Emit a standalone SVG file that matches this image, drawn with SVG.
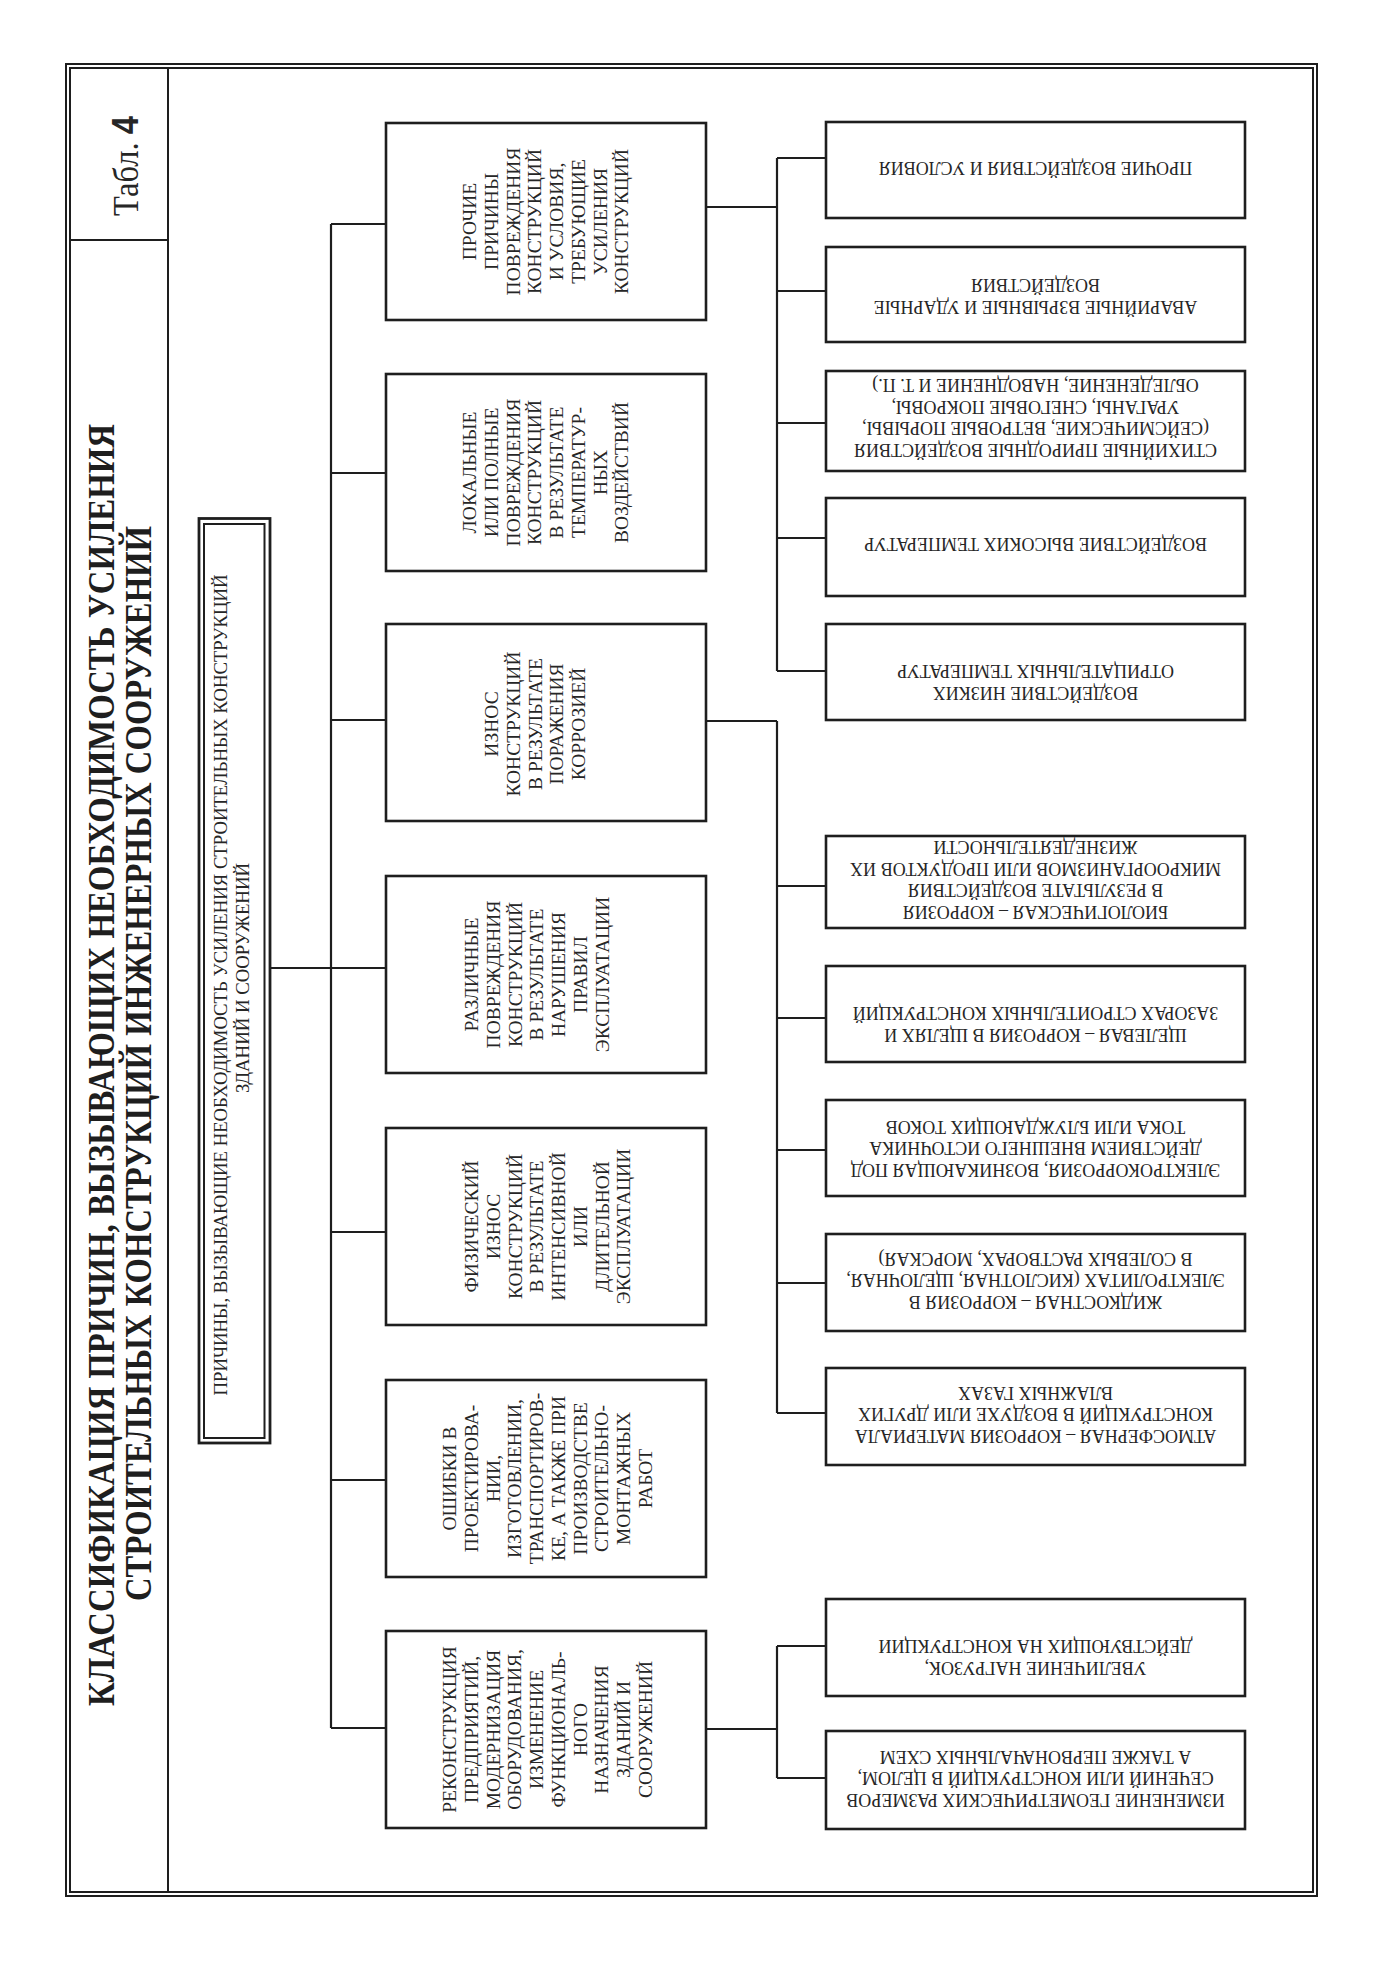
<svg xmlns="http://www.w3.org/2000/svg" width="1386" height="1961" viewBox="0 0 1386 1961">
<style>
.fr{fill:none;stroke:#1e1e1e;stroke-width:2}
.box{fill:#fff;stroke:#1e1e1e;stroke-width:2.6}
.ln{fill:none;stroke:#1e1e1e;stroke-width:2.2}
.t{font-family:"Liberation Serif","DejaVu Serif",serif;font-size:19.5px;fill:#262626;text-anchor:middle}
.r{font-family:"Liberation Serif","DejaVu Serif",serif;font-size:18px;fill:#262626;text-anchor:middle}
.ttl{font-family:"Liberation Serif","DejaVu Serif",serif;font-size:38px;font-weight:bold;fill:#1e1e1e;text-anchor:middle}
</style>
<rect width="1386" height="1961" fill="#fff"/>
<g id="frame">
<rect class="fr" x="66" y="64" width="1251" height="1832"/>
<rect class="fr" x="70" y="68" width="1243" height="1824"/>
<line class="fr" x1="168" y1="68" x2="168" y2="1892"/>
<line class="fr" x1="70" y1="240" x2="168" y2="240"/>
</g>
<g id="tabl">
<text transform="translate(138,166) rotate(-90)" font-family="Liberation Serif, serif" font-size="36" fill="#262626" text-anchor="middle" textLength="100" lengthAdjust="spacingAndGlyphs">Табл. <tspan font-family="Liberation Sans, sans-serif" font-weight="bold">4</tspan></text>
</g>
<g id="title">
<text class="ttl" transform="translate(113.5,1065) rotate(-90)" textLength="1282" lengthAdjust="spacingAndGlyphs">КЛАССИФИКАЦИЯ ПРИЧИН, ВЫЗЫВАЮЩИХ НЕОБХОДИМОСТЬ УСИЛЕНИЯ</text>
<text class="ttl" transform="translate(151,1063.5) rotate(-90)" textLength="1075" lengthAdjust="spacingAndGlyphs">СТРОИТЕЛЬНЫХ КОНСТРУКЦИЙ ИНЖЕНЕРНЫХ СООРУЖЕНИЙ</text>
</g>
<g id="connectors">
<line class="ln" x1="270" y1="968" x2="331" y2="968"/>
<line class="ln" x1="331" y1="224" x2="331" y2="1728"/>
<line class="ln" x1="331" y1="224" x2="386" y2="224"/>
<line class="ln" x1="331" y1="473" x2="386" y2="473"/>
<line class="ln" x1="331" y1="720" x2="386" y2="720"/>
<line class="ln" x1="331" y1="968" x2="386" y2="968"/>
<line class="ln" x1="331" y1="1232" x2="386" y2="1232"/>
<line class="ln" x1="331" y1="1480" x2="386" y2="1480"/>
<line class="ln" x1="331" y1="1728" x2="386" y2="1728"/>
<line class="ln" x1="706" y1="207" x2="777" y2="207"/>
<line class="ln" x1="777" y1="158" x2="777" y2="671"/>
<line class="ln" x1="777" y1="158" x2="826" y2="158"/>
<line class="ln" x1="777" y1="291" x2="826" y2="291"/>
<line class="ln" x1="777" y1="423" x2="826" y2="423"/>
<line class="ln" x1="777" y1="538" x2="826" y2="538"/>
<line class="ln" x1="777" y1="671" x2="826" y2="671"/>
<line class="ln" x1="706" y1="721" x2="777" y2="721"/>
<line class="ln" x1="777" y1="721" x2="777" y2="1413"/>
<line class="ln" x1="777" y1="886" x2="826" y2="886"/>
<line class="ln" x1="777" y1="1018" x2="826" y2="1018"/>
<line class="ln" x1="777" y1="1150" x2="826" y2="1150"/>
<line class="ln" x1="777" y1="1283" x2="826" y2="1283"/>
<line class="ln" x1="777" y1="1413" x2="826" y2="1413"/>
<line class="ln" x1="706" y1="1729" x2="777" y2="1729"/>
<line class="ln" x1="777" y1="1646" x2="777" y2="1778"/>
<line class="ln" x1="777" y1="1646" x2="826" y2="1646"/>
<line class="ln" x1="777" y1="1778" x2="826" y2="1778"/>
</g>
<g id="root">
<rect x="199" y="518.5" width="71" height="924.5" fill="#fff" stroke="#1e1e1e" stroke-width="2.8"/>
<rect x="204" y="524" width="60.5" height="914" fill="none" stroke="#1e1e1e" stroke-width="2"/>
<text class="t" font-size="18.5" transform="translate(227,985) rotate(-90)" textLength="821" lengthAdjust="spacingAndGlyphs">ПРИЧИНЫ, ВЫЗЫВАЮЩИЕ НЕОБХОДИМОСТЬ УСИЛЕНИЯ СТРОИТЕЛЬНЫХ КОНСТРУКЦИЙ</text>
<text class="t" font-size="18.5" transform="translate(249,978) rotate(-90)" textLength="230" lengthAdjust="spacingAndGlyphs">ЗДАНИЙ И СООРУЖЕНИЙ</text>
</g>
<g id="m1">
<rect class="box" x="386" y="123" width="320" height="197"/>
<text class="t" transform="translate(476.4,221.5) rotate(-90)"><tspan x="0">ПРОЧИЕ</tspan><tspan x="0" dy="21.7">ПРИЧИНЫ</tspan><tspan x="0" dy="21.7">ПОВРЕЖДЕНИЯ</tspan><tspan x="0" dy="21.7">КОНСТРУКЦИЙ</tspan><tspan x="0" dy="21.7">И УСЛОВИЯ,</tspan><tspan x="0" dy="21.7">ТРЕБУЮЩИЕ</tspan><tspan x="0" dy="21.7">УСИЛЕНИЯ</tspan><tspan x="0" dy="21.7">КОНСТРУКЦИЙ</tspan></text>
</g>
<g id="m2">
<rect class="box" x="386" y="374" width="320" height="197"/>
<text class="t" transform="translate(476.4,472.5) rotate(-90)"><tspan x="0">ЛОКАЛЬНЫЕ</tspan><tspan x="0" dy="21.7">ИЛИ ПОЛНЫЕ</tspan><tspan x="0" dy="21.7">ПОВРЕЖДЕНИЯ</tspan><tspan x="0" dy="21.7">КОНСТРУКЦИЙ</tspan><tspan x="0" dy="21.7">В РЕЗУЛЬТАТЕ</tspan><tspan x="0" dy="21.7">ТЕМПЕРАТУР-</tspan><tspan x="0" dy="21.7">НЫХ</tspan><tspan x="0" dy="21.7">ВОЗДЕЙСТВИЙ</tspan></text>
</g>
<g id="m3">
<rect class="box" x="386" y="624" width="320" height="197"/>
<text class="t" transform="translate(498.4,724) rotate(-90)"><tspan x="0">ИЗНОС</tspan><tspan x="0" dy="21.7">КОНСТРУКЦИЙ</tspan><tspan x="0" dy="21.7">В РЕЗУЛЬТАТЕ</tspan><tspan x="0" dy="21.7">ПОРАЖЕНИЯ</tspan><tspan x="0" dy="21.7">КОРРОЗИЕЙ</tspan></text>
</g>
<g id="m4">
<rect class="box" x="386" y="876" width="320" height="197"/>
<text class="t" transform="translate(478.4,974.5) rotate(-90)"><tspan x="0">РАЗЛИЧНЫЕ</tspan><tspan x="0" dy="21.7">ПОВРЕЖДЕНИЯ</tspan><tspan x="0" dy="21.7">КОНСТРУКЦИЙ</tspan><tspan x="0" dy="21.7">В РЕЗУЛЬТАТЕ</tspan><tspan x="0" dy="21.7">НАРУШЕНИЯ</tspan><tspan x="0" dy="21.7">ПРАВИЛ</tspan><tspan x="0" dy="21.7">ЭКСПЛУАТАЦИИ</tspan></text>
</g>
<g id="m5">
<rect class="box" x="386" y="1128" width="320" height="197"/>
<text class="t" transform="translate(478.4,1226.5) rotate(-90)"><tspan x="0">ФИЗИЧЕСКИЙ</tspan><tspan x="0" dy="21.7">ИЗНОС</tspan><tspan x="0" dy="21.7">КОНСТРУКЦИЙ</tspan><tspan x="0" dy="21.7">В РЕЗУЛЬТАТЕ</tspan><tspan x="0" dy="21.7">ИНТЕНСИВНОЙ</tspan><tspan x="0" dy="21.7">ИЛИ</tspan><tspan x="0" dy="21.7">ДЛИТЕЛЬНОЙ</tspan><tspan x="0" dy="21.7">ЭКСПЛУАТАЦИИ</tspan></text>
</g>
<g id="m6">
<rect class="box" x="386" y="1380" width="320" height="197"/>
<text class="t" transform="translate(456.4,1478.5) rotate(-90)"><tspan x="0">ОШИБКИ В</tspan><tspan x="0" dy="21.7">ПРОЕКТИРОВА-</tspan><tspan x="0" dy="21.7">НИИ,</tspan><tspan x="0" dy="21.7">ИЗГОТОВЛЕНИИ,</tspan><tspan x="0" dy="21.7">ТРАНСПОРТИРОВ-</tspan><tspan x="0" dy="21.7">КЕ, А ТАКЖЕ ПРИ</tspan><tspan x="0" dy="21.7">ПРОИЗВОДСТВЕ</tspan><tspan x="0" dy="21.7">СТРОИТЕЛЬНО-</tspan><tspan x="0" dy="21.7">МОНТАЖНЫХ</tspan><tspan x="0" dy="21.7">РАБОТ</tspan></text>
</g>
<g id="m7">
<rect class="box" x="386" y="1631" width="320" height="197"/>
<text class="t" transform="translate(456.4,1729.5) rotate(-90)"><tspan x="0">РЕКОНСТРУКЦИЯ</tspan><tspan x="0" dy="21.7">ПРЕДПРИЯТИЙ,</tspan><tspan x="0" dy="21.7">МОДЕРНИЗАЦИЯ</tspan><tspan x="0" dy="21.7">ОБОРУДОВАНИЯ,</tspan><tspan x="0" dy="21.7">ИЗМЕНЕНИЕ</tspan><tspan x="0" dy="21.7">ФУНКЦИОНАЛЬ-</tspan><tspan x="0" dy="21.7">НОГО</tspan><tspan x="0" dy="21.7">НАЗНАЧЕНИЯ</tspan><tspan x="0" dy="21.7">ЗДАНИЙ И</tspan><tspan x="0" dy="21.7">СООРУЖЕНИЙ</tspan></text>
</g>
<g id="a1">
<rect class="box" x="826" y="122" width="419" height="96"/>
<text class="r" transform="translate(1035.5,162) rotate(180)"><tspan x="0">ПРОЧИЕ ВОЗДЕЙСТВИЯ И УСЛОВИЯ</tspan></text>
</g>
<g id="a2">
<rect class="box" x="826" y="247" width="419" height="95"/>
<text class="r" transform="translate(1035.5,301) rotate(180)"><tspan x="0">АВАРИЙНЫЕ ВЗРЫВНЫЕ И УДАРНЫЕ</tspan><tspan x="0" dy="21.7">ВОЗДЕЙСТВИЯ</tspan></text>
</g>
<g id="a3">
<rect class="box" x="826" y="371" width="419" height="100"/>
<text class="r" transform="translate(1035.5,444) rotate(180)"><tspan x="0">СТИХИЙНЫЕ ПРИРОДНЫЕ ВОЗДЕЙСТВИЯ</tspan><tspan x="0" dy="21.7">(СЕЙСМИЧЕСКИЕ, ВЕТРОВЫЕ ПОРЫВЫ,</tspan><tspan x="0" dy="21.7">УРАГАНЫ, СНЕГОВЫЕ ПОКРОВЫ,</tspan><tspan x="0" dy="21.7">ОБЛЕДЕНЕНИЕ, НАВОДНЕНИЕ И Т. П.)</tspan></text>
</g>
<g id="a4">
<rect class="box" x="826" y="498" width="419" height="98"/>
<text class="r" transform="translate(1035.5,538) rotate(180)"><tspan x="0">ВОЗДЕЙСТВИЕ ВЫСОКИХ ТЕМПЕРАТУР</tspan></text>
</g>
<g id="a5">
<rect class="box" x="826" y="624" width="419" height="96"/>
<text class="r" transform="translate(1035.5,687) rotate(180)"><tspan x="0">ВОЗДЕЙСТВИЕ НИЗКИХ</tspan><tspan x="0" dy="21.7">ОТРИЦАТЕЛЬНЫХ ТЕМПЕРАТУР</tspan></text>
</g>
<g id="b1">
<rect class="box" x="826" y="836" width="419" height="92"/>
<text class="r" transform="translate(1035.5,906) rotate(180)"><tspan x="0">БИОЛОГИЧЕСКАЯ – КОРРОЗИЯ</tspan><tspan x="0" dy="21.7">В РЕЗУЛЬТАТЕ ВОЗДЕЙСТВИЯ</tspan><tspan x="0" dy="21.7">МИКРООРГАНИЗМОВ ИЛИ ПРОДУКТОВ ИХ</tspan><tspan x="0" dy="21.7">ЖИЗНЕДЕЯТЕЛЬНОСТИ</tspan></text>
</g>
<g id="b2">
<rect class="box" x="826" y="966" width="419" height="96"/>
<text class="r" transform="translate(1035.5,1029) rotate(180)"><tspan x="0">ЩЕЛЕВАЯ – КОРРОЗИЯ В ЩЕЛЯХ И</tspan><tspan x="0" dy="21.7">ЗАЗОРАХ СТРОИТЕЛЬНЫХ КОНСТРУКЦИЙ</tspan></text>
</g>
<g id="b3">
<rect class="box" x="826" y="1100" width="419" height="96"/>
<text class="r" transform="translate(1035.5,1164) rotate(180)"><tspan x="0">ЭЛЕКТРОКОРРОЗИЯ, ВОЗНИКАЮЩАЯ ПОД</tspan><tspan x="0" dy="21.7">ДЕЙСТВИЕМ ВНЕШНЕГО ИСТОЧНИКА</tspan><tspan x="0" dy="21.7">ТОКА ИЛИ БЛУЖДАЮЩИХ ТОКОВ</tspan></text>
</g>
<g id="b4">
<rect class="box" x="826" y="1234" width="419" height="97"/>
<text class="r" transform="translate(1035.5,1296) rotate(180)"><tspan x="0">ЖИДКОСТНАЯ –  КОРРОЗИЯ В</tspan><tspan x="0" dy="21.7">ЭЛЕКТРОЛИТАХ (КИСЛОТНАЯ, ЩЕЛОЧНАЯ,</tspan><tspan x="0" dy="21.7">В СОЛЕВЫХ РАСТВОРАХ, МОРСКАЯ)</tspan></text>
</g>
<g id="b5">
<rect class="box" x="826" y="1368" width="419" height="97"/>
<text class="r" transform="translate(1035.5,1430) rotate(180)"><tspan x="0">АТМОСФЕРНАЯ – КОРРОЗИЯ МАТЕРИАЛА</tspan><tspan x="0" dy="21.7">КОНСТРУКЦИЙ В ВОЗДУХЕ ИЛИ ДРУГИХ</tspan><tspan x="0" dy="21.7">ВЛАЖНЫХ ГАЗАХ</tspan></text>
</g>
<g id="c1">
<rect class="box" x="826" y="1599" width="419" height="97"/>
<text class="r" transform="translate(1035.5,1662) rotate(180)"><tspan x="0">УВЕЛИЧЕНИЕ НАГРУЗОК,</tspan><tspan x="0" dy="21.7">ДЕЙСТВУЮЩИХ НА КОНСТРУКЦИИ</tspan></text>
</g>
<g id="c2">
<rect class="box" x="826" y="1731" width="419" height="98"/>
<text class="r" transform="translate(1035.5,1794) rotate(180)"><tspan x="0">ИЗМЕНЕНИЕ ГЕОМЕТРИЧЕСКИХ РАЗМЕРОВ</tspan><tspan x="0" dy="21.7">СЕЧЕНИЙ ИЛИ КОНСТРУКЦИЙ В ЦЕЛОМ,</tspan><tspan x="0" dy="21.7">А ТАКЖЕ ПЕРВОНАЧАЛЬНЫХ СХЕМ</tspan></text>
</g>
</svg>
